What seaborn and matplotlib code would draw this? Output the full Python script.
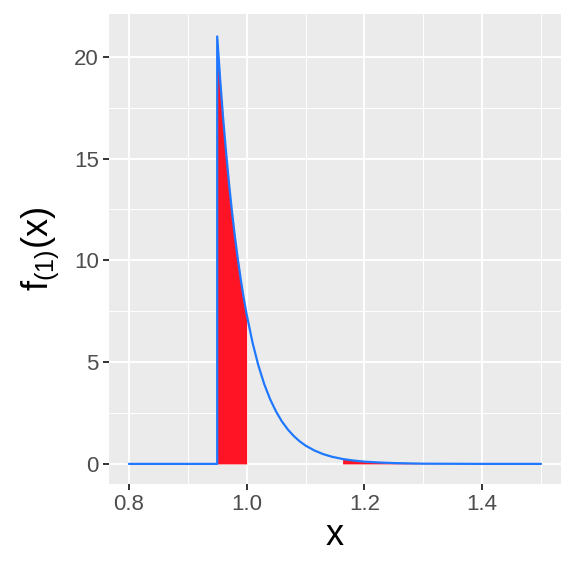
import matplotlib
matplotlib.use("Agg")
import matplotlib.pyplot as plt
from matplotlib.ticker import MultipleLocator
import seaborn as sns
import pandas as pd

# density of the minimum
x_vals = [0.80, 0.90, 0.95, 0.95, 0.955, 0.96, 0.965, 0.97, 0.975, 0.98, 0.985, 0.99, 0.995,
          1.00, 1.01, 1.02, 1.03, 1.04, 1.05, 1.06, 1.07, 1.08, 1.09, 1.10, 1.115, 1.13, 1.145,
          1.16, 1.163, 1.18, 1.20, 1.225, 1.25, 1.30, 1.35, 1.40, 1.50]
y_vals = [0.0, 0.0, 0.0, 21.0, 18.9, 17.02, 15.33, 13.80, 12.42, 11.18, 10.07, 9.07, 8.16,
          7.35, 5.96, 4.83, 3.91, 3.17, 2.57, 2.08, 1.69, 1.37, 1.11, 0.90, 0.66, 0.48, 0.35,
          0.26, 0.24, 0.17, 0.11, 0.07, 0.04, 0.01, 0.005, 0.0, 0.0]
left_shade = (0.95, 1.00)
right_shade = (1.163, 1.50)

df = pd.DataFrame({"x": x_vals, "y": y_vals})

sns.set_style("darkgrid")
plt.rcParams["font.family"] = ["Liberation Sans", "DejaVu Sans"]
plt.rcParams["mathtext.fontset"] = "custom"
plt.rcParams["mathtext.rm"] = "Liberation Sans"
plt.rcParams["mathtext.it"] = "Liberation Sans"

fig = plt.figure(figsize=(5.76, 5.76), dpi=100)
ax = fig.add_axes([0.189, 0.160, 0.785, 0.816])
ax.set_facecolor("#EBEBEB")

# shaded parts (first one starts at the jump, so skip the zero point)
pts = list(zip(x_vals, y_vals))
lx = [p[0] for i, p in enumerate(pts) if left_shade[0] <= p[0] <= left_shade[1] and i != 2]
ly = [p[1] for i, p in enumerate(pts) if left_shade[0] <= p[0] <= left_shade[1] and i != 2]
rx = [p[0] for p in pts if right_shade[0] <= p[0] <= right_shade[1]]
ry = [p[1] for p in pts if right_shade[0] <= p[0] <= right_shade[1]]
ax.fill_between(lx, 0, ly, color="#FF1426", lw=0, zorder=2)
ax.fill_between(rx, 0, ry, color="#FF1426", lw=0, zorder=2)

sns.lineplot(data=df, x="x", y="y", sort=False, estimator=None, color="#1F78FF", lw=1.6, ax=ax, zorder=3)

ax.set_xlim(0.766, 1.534)
ax.set_ylim(-0.98, 22.11)
ax.xaxis.set_major_locator(MultipleLocator(0.2))
ax.xaxis.set_minor_locator(MultipleLocator(0.1))
ax.yaxis.set_major_locator(MultipleLocator(5))
ax.yaxis.set_minor_locator(MultipleLocator(2.5))
ax.set_xticks([0.8, 1.0, 1.2, 1.4])
ax.set_xticklabels(["0.8", "1.0", "1.2", "1.4"])
ax.grid(which="major", color="white", lw=1.4)
ax.grid(which="minor", color="white", lw=0.7)
ax.set_axisbelow(True)
for s in ax.spines.values():
    s.set_visible(False)
ax.tick_params(which="major", length=4.3, width=1.4, color="#333333", labelcolor="#4D4D4D",
               labelsize=16, pad=3, bottom=True, left=True)
ax.tick_params(which="minor", length=0)

ax.set_xlabel("x", fontsize=26, color="black", labelpad=2)
ax.set_ylabel(r"f$_{(1)}$(x)", fontsize=26, color="black", labelpad=9)

fig.savefig("out.png", dpi=100)
